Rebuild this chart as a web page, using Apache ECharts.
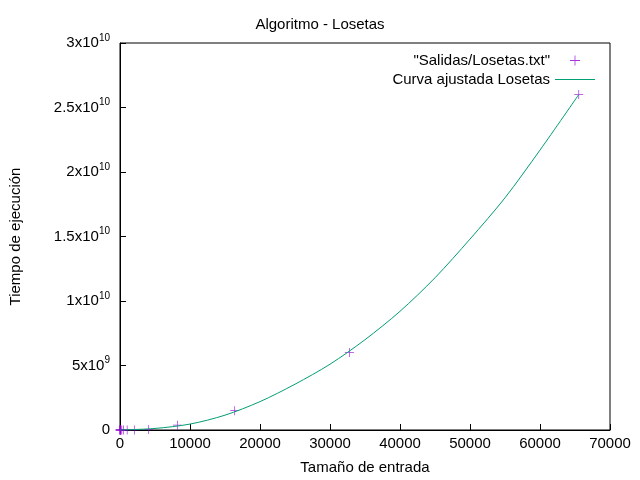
<!DOCTYPE html>
<html><head><meta charset="utf-8">
<script src="https://cdn.jsdelivr.net/npm/echarts@6/dist/echarts.min.js"></script>
<style>body{margin:0}#c{width:640px;height:480px}</style></head>
<body><div id="c"></div>
<script>
const sizes=[2,4,8,16,32,64,128,256,512,1024,2048,4096,8192,16384,32768,65536];
const times=[0,0,0,0,0,0,0,1e5,4e5,1.6e6,7e6,3e7,3.7e8,1.5e9,6.0e9,2.6e10];
const fitX=[0,5000,10000,15000,20000,25000,30000,35000,40000,45000,50000,55000,60000,65536];
const fitY=[0,1.2e8,4.6e8,1.15e9,2.2e9,3.55e9,5.1e9,7.0e9,9.2e9,1.18e10,1.48e10,1.8e10,2.17e10,2.6e10];
const plus='path://M4.6,0h0.8v10h-0.8zM0,4.6h10v0.8h-10z';
const lineIcon='path://M0,4.5h40v1h-40z';
function yl(v){
  if(v===0)return '0';
  const e=Math.floor(Math.log10(v)+1e-9), m=v/Math.pow(10,e);
  return (Math.round(m*10)/10)+'x10{s|'+e+'}';
}
const ch=echarts.init(document.getElementById('c'));
const ax={color:'#000',fontSize:15,fontFamily:'Liberation Sans'};
ch.setOption({
  animation:false,
  title:{text:'Algoritmo - Losetas',left:'center',top:12,textStyle:{fontWeight:'normal',fontSize:15,fontFamily:'Liberation Sans',color:'#000'}},
  legend:{right:40,top:48,orient:'vertical',align:'right',itemWidth:40,itemHeight:10,itemGap:4,
    textStyle:{fontSize:15,fontFamily:'Liberation Sans',color:'#000'},
    data:[{name:'"Salidas/Losetas.txt"',icon:plus},{name:'Curva ajustada Losetas',icon:lineIcon}]},
  grid:{left:120,right:30,top:43,bottom:50,show:true,borderColor:'#000',borderWidth:1},
  xAxis:{type:'value',min:0,max:70000,interval:10000,splitLine:{show:false},
    axisLine:{lineStyle:{color:'#000'}},axisTick:{inside:true,length:6,lineStyle:{color:'#000'}},
    axisLabel:{...ax,margin:6,formatter:v=>String(v)},name:'Tamaño de entrada',nameLocation:'middle',nameGap:30,nameTextStyle:ax},
  yAxis:{type:'value',min:0,max:3e10,interval:5e9,splitLine:{show:false},
    axisLine:{lineStyle:{color:'#000'}},axisTick:{inside:true,length:6,lineStyle:{color:'#000'}},
    axisLabel:{...ax,margin:10,formatter:yl,rich:{s:{fontSize:10,verticalAlign:'bottom',padding:[0,0,10,0],fontFamily:'Liberation Sans',color:'#000'}}},
    name:'Tiempo de ejecución',nameLocation:'middle',nameGap:97,nameTextStyle:ax},
  series:[
    {name:'"Salidas/Losetas.txt"',type:'scatter',symbol:plus,symbolSize:9,itemStyle:{color:'#9400d3'},z:3,
      data:sizes.map((s,i)=>[s,times[i]])},
    {name:'Curva ajustada Losetas',type:'line',smooth:0.3,symbol:'none',showSymbol:false,lineStyle:{color:'#009e73',width:1},itemStyle:{color:'#009e73'},z:4,
      data:fitX.map((x,i)=>[x,fitY[i]])}
  ]
});
</script></body></html>
